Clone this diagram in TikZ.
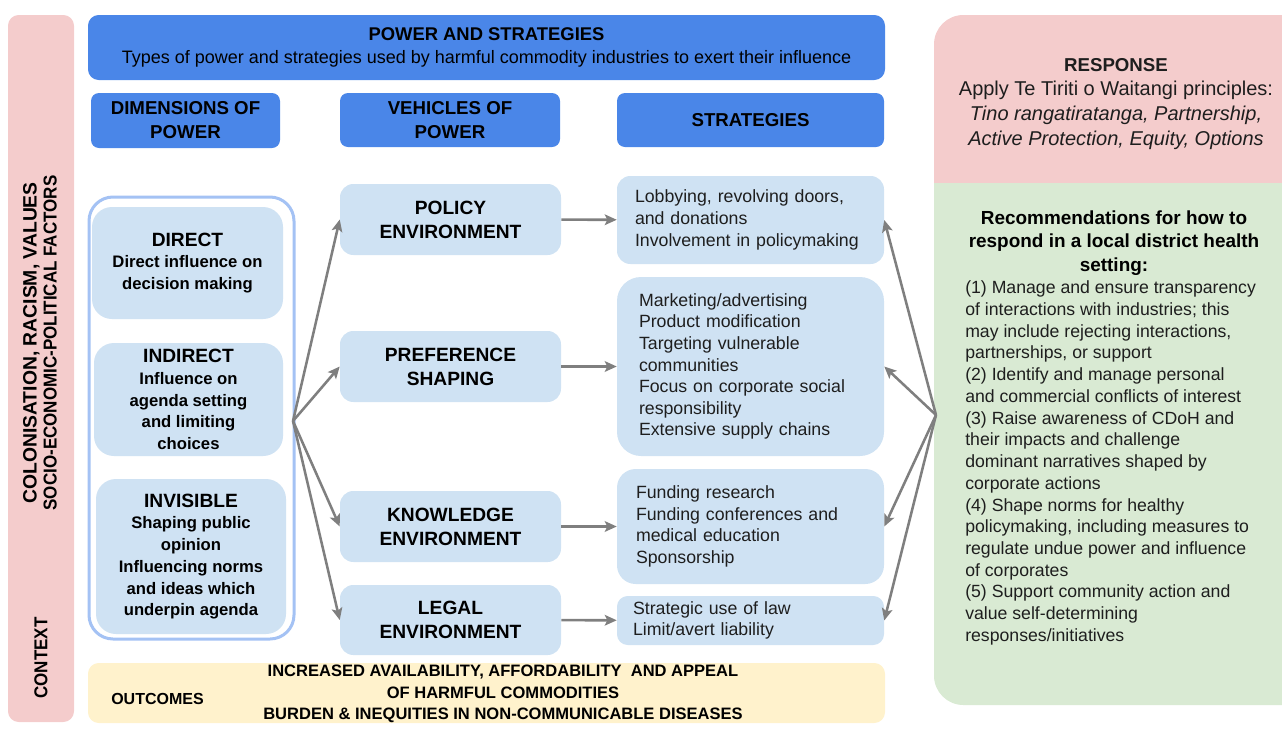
\documentclass[tikz,border=0pt]{standalone}
\usepackage{fontspec}
\setmainfont{Liberation Sans}
\newfontfamily\condf[FakeStretch=0.91]{Liberation Sans}
\usetikzlibrary{arrows.meta}
\definecolor{dblue}{HTML}{4A86E8}
\definecolor{lblue}{HTML}{CFE2F3}
\definecolor{oblue}{HTML}{A4C2F4}
\definecolor{pinkc}{HTML}{F4CCCC}
\definecolor{greenc}{HTML}{D9EAD3}
\definecolor{yellc}{HTML}{FFF2CC}
\definecolor{arrc}{HTML}{7F7F7F}
\definecolor{txt}{HTML}{1E1E1E}
\begin{document}
\begin{tikzpicture}[x=0.75pt,y=-0.75pt,
  sz/.style 2 args={minimum width=#1*0.75pt,minimum height=#2*0.75pt},
  hdr/.style={fill=dblue,rounded corners=6pt,align=center,inner sep=0pt,text=black,
    font=\fontsize{14}{18}\selectfont\bfseries},
  veh/.style={fill=lblue,rounded corners=10pt,align=center,inner sep=0pt,text=black,
    font=\fontsize{14.4}{18}\selectfont\bfseries},
  dimbox/.style={fill=lblue,rounded corners=15pt,align=center,inner sep=0pt,text=black,
    font=\fontsize{12.5}{16.3}\selectfont\bfseries},
  strat/.style={fill=lblue,rounded corners=10pt,align=left,inner sep=0pt,text=txt,
    font=\fontsize{13.3}{16.2}\selectfont},
  conn/.style={draw=arrc,line width=1.9pt,-{Stealth[length=9pt,width=8pt,inset=2pt]}}
]
\useasboundingbox (0,0) rectangle (1282,736);

% context column
\node[fill=pinkc,rounded corners=8pt,sz={66}{707},inner sep=0pt] (ctx) at (41,368.5) {};
\node[rotate=90,align=center,font=\fontsize{14}{15}\selectfont\bfseries] (ctxfac) at (40,343)
  {{\fontsize{14.5}{15}\selectfont COLONISATION, RACISM, VALUES}\\{\condf SOCIO-ECONOMIC-POLITICAL FACTORS}};
\node[rotate=90,font=\condf\fontsize{14}{16.5}\selectfont\bfseries] (ctxlab) at (41,658) {CONTEXT};

% top
\node[fill=dblue,rounded corners=8pt,sz={797}{65},inner sep=0pt,align=center,
  font=\fontsize{13.5}{16.5}\selectfont] (top) at (486.5,47.5)
  {{\fontsize{13.8}{16.5}\selectfont\bfseries POWER AND STRATEGIES}\\[0.5pt]
   Types of power and strategies used by harmful commodity industries to exert their influence};

% headers
\node[hdr,sz={189}{55}] (hdim) at (185.5,120.5) {DIMENSIONS OF\\POWER};
\node[hdr,sz={220}{54}] (hveh) at (450,120) {VEHICLES OF\\POWER};
\node[hdr,sz={267}{54}] (hstr) at (750.5,120) {STRATEGIES};

% dimensions
\node[draw=oblue,line width=2.25pt,fill=white,rounded corners=18pt,sz={205}{442},inner sep=0pt] (outer) at (191.5,418) {};
\node[dimbox,sz={191}{112}] (direct) at (187.5,263)
  {{\fontsize{14.4}{16.3}\selectfont DIRECT}\\Direct influence on\\decision making};
\node[dimbox,sz={189}{113}] (indirect) at (188.5,399.5)
  {{\fontsize{14.4}{16.3}\selectfont INDIRECT}\\Influence on\\agenda setting\\and limiting\\choices};
\node[dimbox,sz={190}{155}] (invisible) at (191,556.5)
  {{\fontsize{14.4}{16.3}\selectfont INVISIBLE}\\Shaping public\\opinion\\Influencing norms\\and ideas which\\underpin agenda};

% vehicles
\node[veh,sz={221}{71}] (policy) at (450.5,219.5) {POLICY\\ENVIRONMENT};
\node[veh,sz={221}{71}] (pref) at (450.5,366.5) {PREFERENCE\\SHAPING};
\node[veh,sz={221}{71}] (know) at (450.5,526.5) {KNOWLEDGE\\ENVIRONMENT};
\node[veh,sz={221}{70}] (legal) at (450.5,620) {LEGAL\\ENVIRONMENT};

% strategies
\node[strat,sz={267}{88},text width=173.25pt] (lobby) at (750.5,220)
  {Lobbying, revolving doors,\\and donations\\Involvement in policymaking};
\node[strat,rounded corners=18pt,sz={267}{179},text width=167.25pt] (market) at (750.5,366.5)
  {Marketing/advertising\\Product modification\\Targeting vulnerable\\communities\\Focus on corporate social\\responsibility\\Extensive supply chains};
\node[strat,rounded corners=14pt,sz={267}{115},text width=171.75pt] (fund) at (750.5,526.5)
  {Funding research\\Funding conferences and\\medical education\\Sponsorship};
\node[strat,rounded corners=8pt,sz={267}{49},text width=176.25pt] (law) at (750.5,620.5)
  {Strategic use of law\\Limit/avert liability};

% outcomes
\node[fill=yellc,rounded corners=8pt,sz={797}{60},inner sep=0pt] (outc) at (486.5,693) {};
\node[font=\fontsize{12}{16.1}\selectfont\bfseries] (outlab) at (157.5,699) {OUTCOMES};
\node[align=center,font=\fontsize{12.4}{16.1}\selectfont\bfseries] (outtxt) at (503,694)
  {INCREASED AVAILABILITY, AFFORDABILITY\ \ AND APPEAL\\OF HARMFUL COMMODITIES\\BURDEN \& INEQUITIES IN NON-COMMUNICABLE DISEASES};

% response panel
\fill[pinkc,rounded corners=22pt] (934,183) -- (934,15) -- (1330,15) -- (1330,183);
\fill[greenc,rounded corners=22pt] (934,183) -- (934,705) -- (1330,705) -- (1330,183);
\node[align=center,font=\fontsize{15}{18.7}\selectfont,text=txt] (resp) at (1116,104)
  {{\bfseries\fontsize{14}{18.7}\selectfont RESPONSE}\\Apply Te Tiriti o Waitangi principles:\\
   \itshape Tino rangatiratanga, Partnership,\\\itshape Active Protection, Equity, Options};
\node[align=center,font=\fontsize{14.2}{17.7}\selectfont\bfseries] (rectitle) at (1114,243)
  {Recommendations for how to\\respond in a local district health\\setting:};
\node[anchor=west,align=left,inner sep=0pt,text=txt,font=\fontsize{13.25}{16.3}\selectfont] (recs) at (965,463)
  {(1) Manage and ensure transparency\\of interactions with industries; this\\may include rejecting interactions,\\partnerships, or support\\
   (2) Identify and manage personal\\and commercial conflicts of interest\\
   (3) Raise awareness of CDoH and\\their impacts and challenge\\dominant narratives shaped by\\corporate actions\\
   (4) Shape norms for healthy\\policymaking, including measures to\\regulate undue power and influence\\of corporates\\
   (5) Support community action and\\value self-determining\\responses/initiatives};

% connectors
\coordinate (fanL) at (293,421);
\coordinate (fanR) at (936,415);
\foreach \t in {policy,pref,know,legal} \draw[conn] (fanL) -- (\t.west);
\draw[conn] (policy) -- (lobby);
\draw[conn] (pref) -- (market);
\draw[conn] (know) -- (fund);
\draw[conn] (legal) -- (law);
\foreach \t in {lobby,market,fund,law} \draw[conn] (fanR) -- (\t.east);
\end{tikzpicture}
\end{document}
